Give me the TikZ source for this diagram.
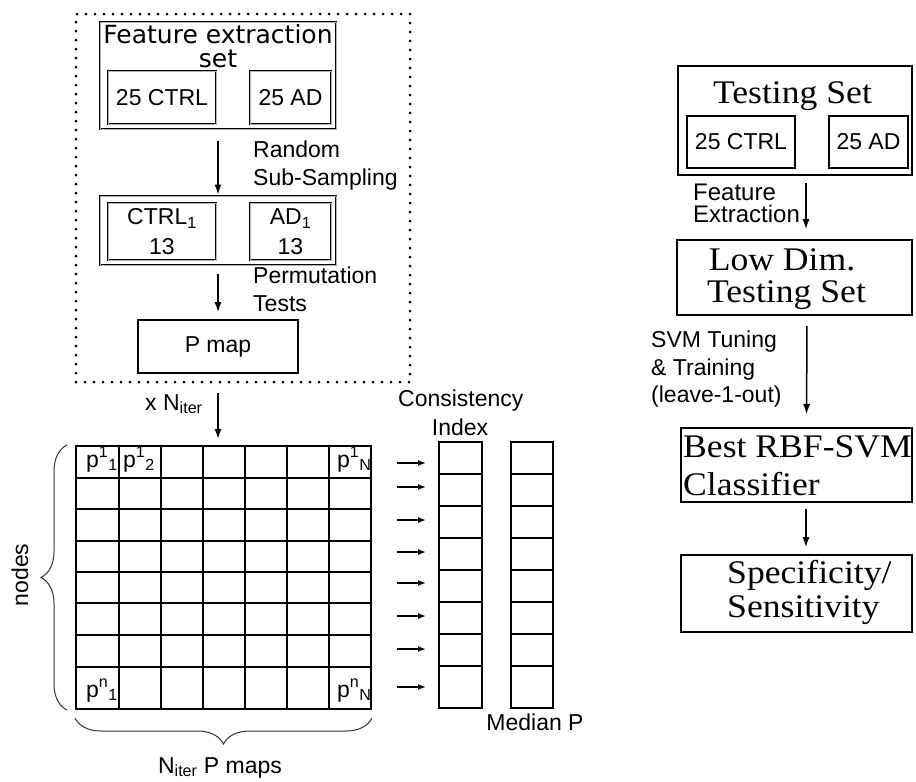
\documentclass[tikz,border=0pt]{standalone}
\usepackage{fontspec}
\setmainfont{Liberation Sans}
\newfontfamily\serifface[FakeStretch=1.08]{Liberation Serif}
\newfontfamily\verdface{DejaVu Sans}
\usetikzlibrary{arrows.meta,decorations.pathreplacing}

\tikzset{
  sans/.style={font=\fontsize{23}{28}\selectfont, inner sep=0pt},
  serif/.style={font=\serifface\fontsize{33}{38}\selectfont, inner sep=0pt},
  titlefont/.style={font=\verdface\fontsize{25}{23.5}\selectfont, inner sep=0pt},
  box/.style={draw, line width=1.6pt, inner sep=0pt},
  % two-line frame: heavy stroke with a thin light core
  dbox/.style={draw=black, line width=2.8pt, inner sep=0pt,
               postaction={draw=white!70!black, line width=0.7pt}},
  dotframe/.style={draw, line width=3pt, line cap=round, dash pattern=on 0pt off 9pt, inner sep=0pt},
  flow/.style={-{Latex[length=10pt,width=7pt]}, line width=1.5pt},
  tick/.style={-{Latex[length=8pt,width=6pt]}, line width=1.5pt},
  gridline/.style={line width=1.2pt},
  curly/.style={decorate, decoration={brace, amplitude=26pt}, line width=1pt, black!80},
}

\begin{document}
\begin{tikzpicture}[x=1pt,y=-1pt]
\useasboundingbox (0,0) rectangle (916,782);

% ---- sub-sampling stage inside the dotted frame ----
\node[dotframe, minimum width=334pt, minimum height=368pt] (frame) at (243,198) {};

\node[dbox, minimum width=236pt, minimum height=107pt] (fes) at (218,75.5) {};
\node[titlefont, align=center, anchor=north] (festitle) at (218,24.5) {Feature extraction\\set};
\node[dbox, sans, minimum width=108pt, minimum height=53pt] (ctrlA) at (162,97.5) {25 CTRL};
\node[dbox, sans, minimum width=81pt, minimum height=53pt] (adA) at (290.5,97.5) {25 AD};

\node[dbox, minimum width=236pt, minimum height=69pt] (sub) at (218,230.5) {};
\node[dbox, sans, align=center, font=\fontsize{23}{30}\selectfont,
      minimum width=108pt, minimum height=57pt] (ctrl1) at (162,231.5) {CTRL\textsubscript{1}\\13};
\node[dbox, sans, align=center, font=\fontsize{23}{30}\selectfont,
      minimum width=81pt, minimum height=57pt] (ad1) at (290.5,231.5) {AD\textsubscript{1}\\13};

\node[box, sans, minimum width=160pt, minimum height=53pt] (pmap) at (218,346.5) {P map};

\draw[flow, shorten <=11pt] (fes.south) -- (sub.north);
\draw[flow, shorten <=8pt, shorten >=7pt] (sub.south) -- (pmap.north);

\node[sans, anchor=base west] (rs1) at (253,157) {Random};
\node[sans, anchor=base west] (rs2) at (253,185) {Sub-Sampling};
\node[sans, anchor=base west] (pt1) at (253,283) {Permutation};
\node[sans, anchor=base west] (pt2) at (253,311) {Tests};

% ---- matrix of P maps ----
\node[draw, line width=2pt, minimum width=295pt, minimum height=263pt, inner sep=0pt] (grid) at (223.5,577.5) {};
\foreach \x in {119,161,203,245,287,329}
  \draw[gridline] (\x,446) -- (\x,709);
\foreach \y in {478,509,541,572,603,635,667}
  \draw[gridline] (76,\y) -- (371,\y);

\draw[flow, shorten <=9pt, shorten >=6pt] (frame.south -| pmap) -- (grid.north -| pmap);
\node[sans, anchor=base west] (xn) at (145,410) {x N\textsubscript{iter}};

\node[sans, anchor=base west] (p11) at (86,467) {p\textsuperscript{1}\textsubscript{1}};
\node[sans, anchor=base west] (p12) at (123,467) {p\textsuperscript{1}\textsubscript{2}};
\node[sans, anchor=base west] (p1N) at (337,467) {p\textsuperscript{1}\textsubscript{N}};
\node[sans, anchor=base west] (pn1) at (86,697) {p\textsuperscript{n}\textsubscript{1}};
\node[sans, anchor=base west] (pnN) at (337,697) {p\textsuperscript{n}\textsubscript{N}};

\draw[curly] ([xshift=-8pt]grid.south west) -- ([xshift=-8pt]grid.north west);
\draw[curly] ([yshift=-8pt]grid.south east) -- ([yshift=-8pt]grid.south west);
\node[sans, rotate=90] (nodeslbl) at (20,575) {nodes};
\node[sans, anchor=base] (maps) at (220,773) {N\textsubscript{iter} P maps};

% ---- consistency index and median P columns ----
\node[draw, line width=2pt, minimum width=43pt, minimum height=266pt, inner sep=0pt] (ci) at (460.5,575) {};
\node[draw, line width=2pt, minimum width=42pt, minimum height=266pt, inner sep=0pt] (mp) at (532,575) {};
\foreach \y in {474,506,538,570,602,634,666} {
  \draw[gridline] (ci.west |- 0,\y) -- (ci.east |- 0,\y);
  \draw[gridline] (mp.west |- 0,\y) -- (mp.east |- 0,\y);
}
\foreach \y [count=\i] in {463,487,520,552,583,616,649,687} {
  \coordinate (in\i) at (397,\y);
  \draw[tick, shorten >=12pt] (in\i) -- (in\i -| ci.west);
}
\node[sans, anchor=base west] (cons) at (398,406) {Consistency};
\node[sans, anchor=base] (idx) at (460,435) {Index};
\node[sans, anchor=base] (medp) at (535,730) {Median P};

% ---- testing pipeline ----
\node[box, minimum width=234pt, minimum height=109pt] (test) at (795,120.5) {};
\node[serif, anchor=base] (testlbl) at (792.5,103) {Testing Set};
\node[box, sans, minimum width=108pt, minimum height=52pt] (ctrlB) at (741,142) {25 CTRL};
\node[box, sans, minimum width=79pt, minimum height=52pt] (adB) at (868.5,142) {25 AD};

\node[box, minimum width=235pt, minimum height=75pt] (low) at (794.5,277.5) {};
\node[serif, anchor=base] (low1) at (782,270) {Low Dim.};
\node[serif, anchor=base] (low2) at (786.5,302) {Testing Set};

\node[box, minimum width=231pt, minimum height=74pt] (best) at (796.5,465) {};
\node[serif, anchor=base west] (best1) at (683,457) {Best RBF-SVM};
\node[serif, anchor=base west] (best2) at (683,495) {Classifier};

\node[box, minimum width=231pt, minimum height=77pt] (spec) at (796.5,593.5) {};
\node[serif, anchor=base west] (spec1) at (727,583) {Specificity/};
\node[serif, anchor=base west] (spec2) at (727,617) {Sensitivity};

\draw[flow, shorten <=7pt, shorten >=10pt] ([xshift=11pt]test.south) -- ([xshift=11.5pt]low.north);
\draw[flow, shorten <=10pt, shorten >=13pt] ([xshift=12.5pt]low.south) -- ([xshift=10pt]best.north);
\draw[flow, shorten <=6pt, shorten >=7pt] ([xshift=9.5pt]best.south) -- ([xshift=9.5pt]spec.north);

\node[sans, anchor=base west, font=\fontsize{24}{22}\selectfont] (fx1) at (693,200) {Feature};
\node[sans, anchor=base west, font=\fontsize{24}{22}\selectfont] (fx2) at (693,222) {Extraction};
\node[sans, anchor=base west] (svm1) at (651,347) {SVM Tuning};
\node[sans, anchor=base west] (svm2) at (651,375) {\& Training};
\node[sans, anchor=base west] (svm3) at (651,402) {(leave-1-out)};
\end{tikzpicture}
\end{document}
